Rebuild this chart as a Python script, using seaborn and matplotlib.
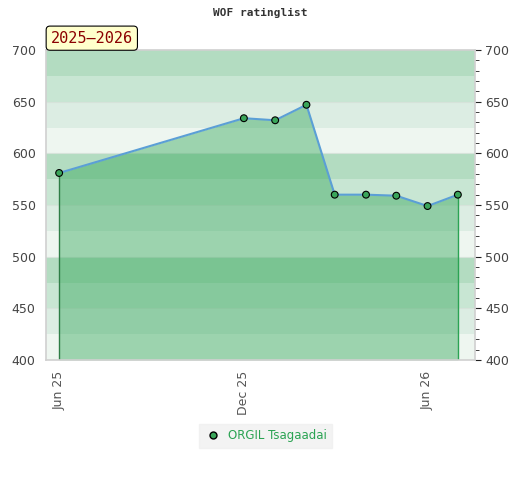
import pandas as pd
import matplotlib
matplotlib.use("Agg")
import matplotlib.pyplot as plt
from matplotlib.lines import Line2D
import seaborn as sns

# data
dates = ["2025-06-01", "2025-12-01", "2026-01-01", "2026-02-01", "2026-03-01",
         "2026-04-01", "2026-05-01", "2026-06-01", "2026-07-01"]
ratings = [581, 634, 632, 647, 560, 560, 559, 549, 560]
player = "ORGIL Tsagaadai"
season = "2025\u20132026"
yticks = [400, 450, 500, 550, 600, 650, 700]
xticks = ["2025-06-01", "2025-12-01", "2026-06-01"]
xtick_labels = ["Jun 25", "Dec 25", "Jun 26"]

df = pd.DataFrame({"date": pd.to_datetime(dates), "rating": ratings, "player": player})

sns.set_style("white")
plt.rcParams["font.family"] = ["DejaVu Sans"]

fig = plt.figure(figsize=(5.2, 4.8), dpi=100)
ax = fig.add_axes([0.0885, 0.25, 0.825, 0.6458])

# background bands, 25 rating points each, four shades repeating
band_colors = ["#eef6f0", "#dcede3", "#c8e6d3", "#b3dcc1"]
lo = 400
i = 0
while lo < 700:
    ax.axhspan(lo, lo + 25, color=band_colors[i % 4], lw=0, zorder=0)
    lo += 25
    i += 1
for t in yticks[1:-1]:
    ax.axhline(t, color="#d6e3da", lw=0.8, zorder=0.5)

ax.fill_between(df["date"], ratings, 400, color="#2ba353", alpha=0.42, lw=0, zorder=1)
ax.vlines(df["date"].iloc[0], 400, ratings[0], color="#2e7d46", lw=1, zorder=2)
ax.vlines(df["date"].iloc[-1], 400, ratings[-1], color="#2ba353", lw=1, zorder=2)

sns.lineplot(data=df, x="date", y="rating", color="#5b9fd6", lw=1.5, ax=ax,
             legend=False, zorder=3)
sns.scatterplot(data=df, x="date", y="rating", hue="player", palette=["#3aa55a"],
                edgecolor="black", linewidth=0.8, s=24, ax=ax, zorder=4, legend=False)

ax.set_xlim(pd.Timestamp("2025-05-19"), pd.Timestamp("2026-07-18"))
ax.set_ylim(400, 700)
ax.set_xlabel("")
ax.set_ylabel("")

ax.set_xticks(pd.to_datetime(xticks))
ax.set_xticklabels(xtick_labels, rotation=90, color="#555555", fontsize=9)
ax.tick_params(axis="x", length=0, pad=8)

ax.set_yticks(yticks)
ax.tick_params(axis="y", which="both", labelleft=True, labelright=True, left=False,
               right=True, labelsize=9, labelcolor="#444444", direction="out",
               length=4, color="#222222")
ax.yaxis.set_minor_locator(plt.MultipleLocator(10))
ax.tick_params(axis="y", which="minor", length=3, right=True, left=False)

for s in ax.spines.values():
    s.set_color("#d0d0d0")
    s.set_linewidth(1.2)

fig.text(0.5, 0.972, "WOF ratinglist", ha="center", va="center",
         family="DejaVu Sans Mono", fontweight="bold", fontsize=8, color="#333333")

ax.text(0.011, 1.014, season, transform=ax.transAxes, ha="left", va="bottom",
        family="DejaVu Sans Mono", fontsize=11, color="#8b0000",
        bbox=dict(boxstyle="round,pad=0.3,rounding_size=0.25", fc="#ffffcc", ec="black", lw=0.8))

# legend
h = Line2D([], [], marker="o", ls="", markerfacecolor="#3aa55a",
           markeredgecolor="black", markersize=5)
leg = fig.legend([h], [player], loc="center", bbox_to_anchor=(0.51, 0.092),
                 frameon=True, fontsize=8.5, handletextpad=0.5, borderpad=0.45,
                 handlelength=1.5, fancybox=False)
leg.get_frame().set_facecolor("#f0f0f0")
leg.get_frame().set_edgecolor("#f0f0f0")
for t in leg.get_texts():
    t.set_color("#2ba353")

fig.savefig("out.png", dpi=100)
